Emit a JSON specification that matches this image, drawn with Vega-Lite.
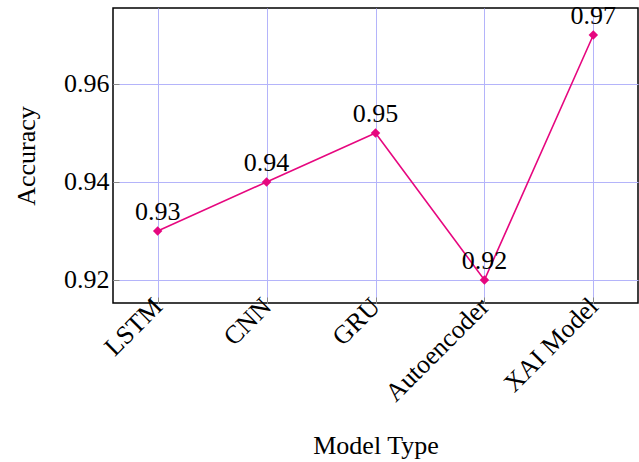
{
  "$schema": "https://vega.github.io/schema/vega-lite/v6.json",
  "width": 525,
  "height": 295,
  "autosize": {"type": "none"},
  "padding": {"left": 113, "top": 8, "right": 1, "bottom": 159},
  "config": {
    "font": "Liberation Serif",
    "view": {"stroke": "black", "strokeWidth": 1.5},
    "axis": {
      "labelFont": "Liberation Serif",
      "titleFont": "Liberation Serif",
      "labelFontSize": 26,
      "titleFontSize": 26,
      "titleFontWeight": "normal",
      "labelColor": "black",
      "titleColor": "black",
      "domain": false,
      "gridColor": "#b4b4fa",
      "gridOpacity": 1,
      "gridWidth": 1,
      "tickColor": "#888888",
      "tickSize": -6,
      "tickWidth": 1
    }
  },
  "data": {
    "values": [
      {"model": "LSTM", "acc": 0.93},
      {"model": "CNN", "acc": 0.94},
      {"model": "GRU", "acc": 0.95},
      {"model": "Autoencoder", "acc": 0.92},
      {"model": "XAI Model", "acc": 0.97}
    ]
  },
  "encoding": {
    "x": {
      "field": "model",
      "type": "ordinal",
      "sort": null,
      "scale": {"type": "point", "padding": 0.41},
      "axis": {
        "title": "Model Type",
        "labelAngle": -45,
        "labelAlign": "right",
        "labelBaseline": "middle",
        "labelPadding": 5,
        "titlePadding": 26,
        "grid": true
      }
    },
    "y": {
      "field": "acc",
      "type": "quantitative",
      "scale": {"domain": [0.9153, 0.9755], "nice": false, "zero": false},
      "axis": {
        "title": "Accuracy",
        "values": [0.92, 0.94, 0.96],
        "format": ".2f",
        "labelPadding": 10,
        "titlePadding": 24,
        "grid": true
      }
    }
  },
  "layer": [
    {
      "mark": {"type": "line", "color": "#e6077f", "strokeWidth": 1.6}
    },
    {
      "mark": {"type": "point", "shape": "diamond", "filled": true, "color": "#e6077f", "size": 90, "opacity": 1}
    },
    {
      "mark": {"type": "text", "dy": -19, "fontSize": 26, "font": "Liberation Serif", "color": "black"},
      "encoding": {"text": {"field": "acc", "type": "quantitative", "format": ".2f"}}
    }
  ]
}
